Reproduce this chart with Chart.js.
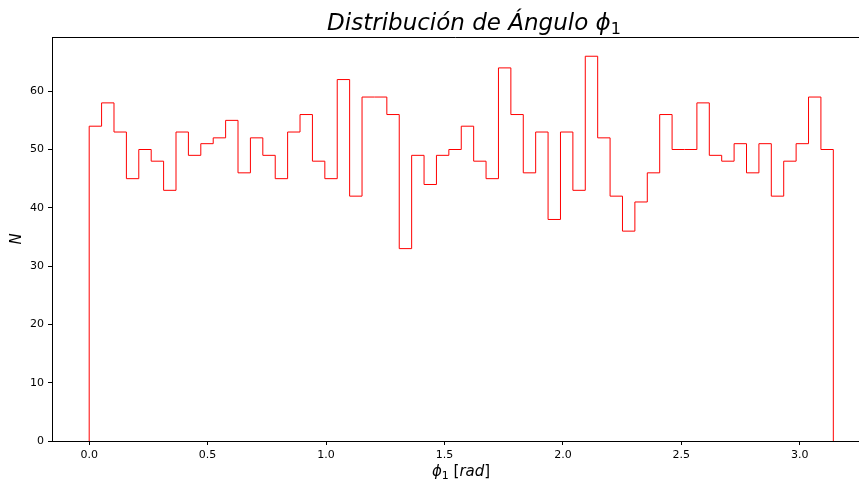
<!DOCTYPE html>
<html lang="es">
<head>
    <meta charset="UTF-8">
    <title>Distribución de Ángulo phi1</title>
    <script src="https://cdn.jsdelivr.net/npm/chart.js"></script>
    <style>
        body {
            margin: 0;
            padding: 0;
            background: #ffffff;
        }
        #wrap {
            width: 859px;
            height: 482px;
        }
    </style>
</head>
<body>
    <div id="wrap">
        <canvas id="histChart" width="859" height="482"></canvas>
    </div>

    <script>
        // histogram counts, 60 bins over [0, pi]
        const counts = [
            54, 58, 53, 45, 50, 48, 43, 53, 49, 51,
            52, 55, 46, 52, 49, 45, 53, 56, 48, 45,
            62, 42, 59, 59, 56, 33, 49, 44, 49, 50,
            54, 48, 45, 64, 56, 46, 53, 38, 53, 43,
            66, 52, 42, 36, 41, 46, 56, 50, 50, 58,
            49, 48, 51, 46, 51, 42, 48, 51, 59, 50
        ];
        const binStart = 0;
        const binEnd = Math.PI;
        const xTicks = [0.0, 0.5, 1.0, 1.5, 2.0, 2.5, 3.0];
        const yTicks = [0, 10, 20, 30, 40, 50, 60];

        const binWidth = (binEnd - binStart) / counts.length;

        // step outline like matplotlib histtype='step'
        const outline = [{ x: binStart, y: 0 }, { x: binStart, y: counts[0] }];
        counts.forEach((c, i) => {
            outline.push({ x: binStart + (i + 1) * binWidth, y: c });
        });
        outline.push({ x: binEnd, y: 0 });

        const sans = '"DejaVu Sans", sans-serif';

        function drawRich(ctx, parts, cx, baseline) {
            let total = 0;
            parts.forEach(p => {
                ctx.font = p.font;
                p.w = ctx.measureText(p.text).width;
                total += p.w;
            });
            let x = cx - total / 2;
            ctx.textAlign = 'left';
            ctx.textBaseline = 'alphabetic';
            parts.forEach(p => {
                ctx.font = p.font;
                ctx.fillText(p.text, x, baseline + (p.dy || 0));
                x += p.w;
            });
        }

        const labelsPlugin = {
            id: 'labelsPlugin',
            afterDraw(chart) {
                const ctx = chart.ctx;
                const area = chart.chartArea;
                ctx.save();
                ctx.fillStyle = '#000000';

                // top spine
                ctx.strokeStyle = '#000000';
                ctx.lineWidth = 1;
                ctx.beginPath();
                ctx.moveTo(area.left, area.top + 0.5);
                ctx.lineTo(area.right, area.top + 0.5);
                ctx.stroke();

                // title
                drawRich(ctx, [
                    { text: 'Distribución de Ángulo ', font: 'italic 23px ' + sans },
                    { text: 'ϕ', font: 'italic 23px ' + sans },
                    { text: '1', font: '16px ' + sans, dy: 4 }
                ], 474, 30);

                // x label
                drawRich(ctx, [
                    { text: 'ϕ', font: 'italic 15px ' + sans },
                    { text: '1', font: '11px ' + sans, dy: 3 },
                    { text: ' [', font: '15px ' + sans },
                    { text: 'rad', font: 'italic 15px ' + sans },
                    { text: ']', font: '15px ' + sans }
                ], 461, 476);

                // y label
                ctx.translate(21, 239);
                ctx.rotate(-Math.PI / 2);
                drawRich(ctx, [
                    { text: 'N', font: 'italic 15px ' + sans }
                ], 0, 0);
                ctx.restore();
            }
        };

        new Chart(document.getElementById('histChart'), {
            type: 'line',
            data: {
                datasets: [{
                    data: outline,
                    borderColor: '#ff0000',
                    borderWidth: 1,
                    pointRadius: 0,
                    stepped: 'after',
                    fill: false
                }]
            },
            options: {
                responsive: false,
                animation: false,
                layout: {
                    padding: { top: 37, right: 0, left: 0, bottom: 0 }
                },
                plugins: {
                    legend: { display: false },
                    tooltip: { enabled: false }
                },
                scales: {
                    x: {
                        type: 'linear',
                        min: -0.157,
                        max: 3.25,
                        afterBuildTicks: scale => {
                            scale.ticks = xTicks.map(v => ({ value: v }));
                        },
                        afterFit: scale => { scale.height = 41; },
                        ticks: {
                            color: '#000000',
                            font: { family: sans, size: 11 },
                            padding: 4,
                            maxRotation: 0,
                            callback: v => v.toFixed(1)
                        },
                        grid: {
                            drawOnChartArea: false,
                            color: '#000000',
                            tickLength: 4
                        },
                        border: { color: '#000000', width: 1 }
                    },
                    y: {
                        min: 0,
                        max: 69.3,
                        afterBuildTicks: scale => {
                            scale.ticks = yTicks.map(v => ({ value: v }));
                        },
                        afterFit: scale => { scale.width = 52; },
                        ticks: {
                            color: '#000000',
                            font: { family: sans, size: 11 },
                            padding: 4
                        },
                        grid: {
                            drawOnChartArea: false,
                            color: '#000000',
                            tickLength: 4
                        },
                        border: { color: '#000000', width: 1 }
                    }
                }
            },
            plugins: [labelsPlugin]
        });
    </script>
</body>
</html>
